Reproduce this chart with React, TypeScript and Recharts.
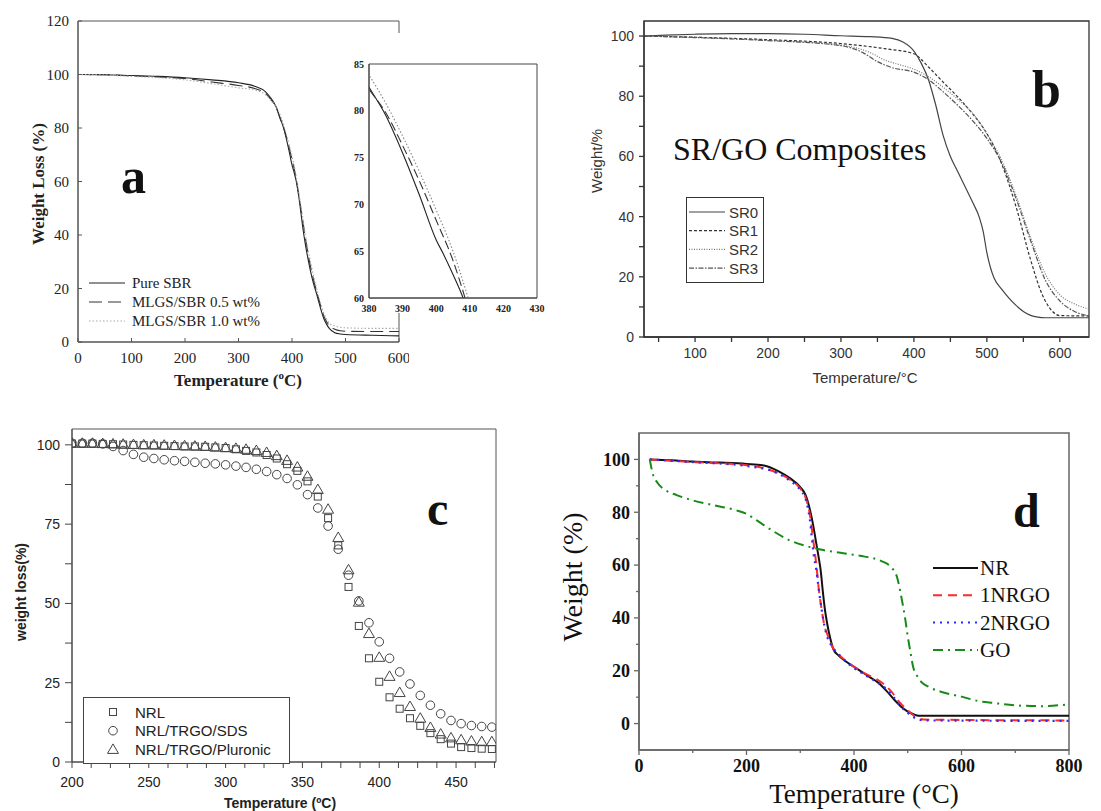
import React from 'react';
import { LineChart, Line, XAxis, YAxis, ScatterChart, Scatter, ReferenceArea, Legend } from 'recharts';

const SERIF = '"Liberation Serif", "Times New Roman", Times, serif';
const SANS = '"Liberation Sans", Arial, Helvetica, sans-serif';

// ---------------- Panel a : SBR ----------------
const aNames = ['Pure SBR', 'MLGS/SBR 0.5 wt%', 'MLGS/SBR 1.0 wt%'];
const aPureT = [0, 50, 100, 150, 200, 250, 300, 330, 350, 360, 370, 380, 385, 390, 395, 400, 402, 405, 408, 415, 420, 425, 430, 440, 446, 450, 455, 460, 465, 470, 480, 490, 500, 550, 600];
const aPureW = [100, 99.9, 99.6, 99.3, 98.8, 98, 96.9, 95.6, 93.6, 91.3, 88, 82.5, 79.5, 75.5, 71, 66.2, 64.8, 62.5, 60, 51, 43, 36.5, 31, 22, 18, 15, 11.5, 8.5, 6.5, 5, 3.5, 3, 2.8, 2.5, 2.3];
const aHalfT = [0, 50, 100, 150, 200, 250, 300, 330, 350, 360, 370, 380, 385, 390, 395, 400, 405, 408.6, 415, 420, 425, 430, 440, 446, 450, 455, 460, 465, 470, 480, 490, 500, 550, 600];
const aHalfW = [100, 99.9, 99.5, 99.1, 98.5, 97.2, 95.9, 94.8, 93, 90.8, 87.8, 82.3, 79.8, 76.3, 72.5, 68.3, 64, 60, 52, 45.5, 39, 33, 23.5, 19, 16, 12.5, 9.5, 7.5, 6, 4.8, 4.2, 4, 3.9, 3.9];
const aOneT = [0, 50, 100, 150, 200, 250, 300, 330, 350, 360, 370, 380, 385, 390, 395, 400, 405, 409.5, 415, 420, 425, 430, 440, 446, 450, 455, 460, 465, 470, 480, 490, 500, 550, 600];
const aOneW = [100, 99.8, 99.3, 98.8, 98, 96.6, 95, 94.2, 92.5, 90.5, 88, 83.8, 80.8, 77.3, 73.5, 69.4, 65, 60, 53, 46.5, 40, 34.5, 25, 20, 17, 13.5, 10.5, 8.5, 7, 6, 5.5, 5.3, 5.1, 5.1];
const aTicksX = [0, 100, 200, 300, 400, 500, 600];
const aTicksY = [0, 20, 40, 60, 80, 100, 120];
const aInsetTicksX = [380, 390, 400, 410, 420, 430];
const aInsetTicksY = [60, 65, 70, 75, 80, 85];

// ---------------- Panel b : SR/GO ----------------
const bNames = ['SR0', 'SR1', 'SR2', 'SR3'];
const bSr0T = [30, 60, 100, 150, 200, 250, 300, 340, 370, 385, 400, 410, 420, 430, 440, 450, 460, 470, 480, 490, 495, 500, 505, 510, 520, 530, 540, 550, 560, 570, 580, 640];
const bSr0W = [100, 100.3, 100.6, 100.8, 100.8, 100.6, 100.1, 99.8, 99.2, 98, 95, 91, 85.5, 77, 67, 60, 55, 50, 45, 39.5, 35, 28, 23, 19.5, 16, 13, 10.5, 8.5, 7.2, 6.6, 6.4, 6.4];
const bSr1T = [30, 100, 200, 300, 360, 400, 420, 440, 460, 480, 500, 520, 540, 560, 575, 590, 600, 640];
const bSr1W = [100, 99.6, 98.8, 97.5, 95.8, 94.1, 89.7, 84.7, 79.8, 74.3, 67.6, 57.7, 43.3, 25.6, 14.6, 8.5, 7.1, 7];
const bSr2T = [30, 100, 200, 300, 340, 360, 380, 400, 420, 440, 460, 480, 500, 520, 540, 560, 580, 600, 620, 640];
const bSr2W = [100, 99.6, 98.6, 97, 94.5, 92, 90.5, 89, 86.5, 83, 79, 74.5, 67.5, 59, 47, 33, 21, 14, 11, 9.3];
const bSr3T = [30, 100, 200, 300, 330, 350, 370, 400, 420, 440, 460, 480, 500, 520, 540, 560, 580, 600, 620, 640];
const bSr3W = [100, 99.5, 98.5, 96.8, 94.5, 91.5, 89.5, 88, 85.5, 81.5, 77, 72, 66, 58, 46, 32, 19, 12, 8.5, 7];
const bTicksX = [50, 100, 150, 200, 250, 300, 350, 400, 450, 500, 550, 600];
const bMajorX = [100, 200, 300, 400, 500, 600];
const bTicksY = [0, 10, 20, 30, 40, 50, 60, 70, 80, 90, 100];
const bMajorY = [0, 20, 40, 60, 80, 100];

// ---------------- Panel c : NRL scatter ----------------
const cNames = ['NRL', 'NRL/TRGO/SDS', 'NRL/TRGO/Pluronic'];
const cTemps = [200, 206.7, 213.3, 220, 226.7, 233.3, 240, 246.7, 253.3, 260, 266.7, 273.3, 280, 286.7, 293.3, 300, 306.7, 313.3, 320, 326.7, 333.3, 340, 346.7, 353.3, 360, 366.7, 373.3, 380, 386.7, 393.3, 400, 406.7, 413.3, 420, 426.7, 433.3, 440, 446.7, 453.3, 460, 466.7, 473.3];
const cNrlW = [100.4, 100.4, 100.4, 100.3, 100.2, 100.1, 100, 99.9, 99.8, 99.7, 99.6, 99.5, 99.5, 99.4, 99.2, 99, 98.6, 98.1, 97.6, 96.8, 95.7, 93.9, 91.8, 88.5, 83.7, 76.9, 68.3, 55.2, 42.9, 32.7, 25.3, 20.4, 16.8, 13.8, 11.4, 9.1, 7.2, 5.8, 4.7, 4.4, 4.2, 4.1];
const cSdsW = [100.5, 100.5, 100.5, 100.3, 99.5, 98.2, 97, 96.1, 95.7, 95.3, 95, 94.8, 94.5, 94.2, 94, 93.7, 93.3, 92.9, 92.3, 91.6, 90.6, 89.4, 87.4, 84.3, 80.1, 74.4, 67.1, 58.9, 50.8, 43.9, 37.9, 32.7, 28.4, 24.6, 21, 17.9, 15.2, 13.1, 12.1, 11.5, 11.2, 11];
const cPluW = [100.5, 100.5, 100.5, 100.4, 100.3, 100.2, 100.1, 100, 100, 99.9, 99.8, 99.7, 99.6, 99.5, 99.3, 99.1, 98.9, 98.6, 98.2, 97.6, 96.6, 95.1, 93, 90.1, 85.9, 79.7, 70.8, 60.6, 50.4, 40.5, 33, 27, 21.9, 17.5, 13.8, 10.9, 8.8, 7.6, 7, 6.6, 6.4, 6.4];
const cTicksX = [200, 212.5, 225, 237.5, 250, 262.5, 275, 287.5, 300, 312.5, 325, 337.5, 350, 362.5, 375, 387.5, 400, 412.5, 425, 437.5, 450, 462.5, 475];
const cMajorX = [200, 250, 300, 350, 400, 450];
const cTicksY = [0, 12.5, 25, 37.5, 50, 62.5, 75, 87.5, 100];
const cMajorY = [0, 25, 50, 75, 100];

// ---------------- Panel d : NR/GO ----------------
const dNames = ['NR', '1NRGO', '2NRGO', 'GO'];
const dNrT = [20, 60, 100, 150, 200, 230, 260, 280, 300, 310, 318, 325, 330, 335, 338, 342, 346, 350, 355, 362, 370, 385, 400, 415, 430, 445, 460, 475, 490, 505, 520, 800];
const dNrW = [100, 99.7, 99.2, 98.8, 98.3, 97.8, 95.5, 93, 89.5, 86.5, 81, 74, 68, 62, 58, 50, 43, 38, 33, 28, 26, 23.5, 21.5, 19.5, 17.5, 15.5, 12.5, 9, 6, 4, 3, 3];
const d1T = [20, 100, 200, 250, 280, 300, 310, 318, 325, 330, 335, 340, 345, 350, 360, 375, 400, 420, 440, 455, 470, 485, 500, 515, 530, 800];
const d1W = [100, 99, 97.8, 95.5, 92.5, 89, 85.5, 79, 68, 60, 50, 43, 37, 34, 29, 25.5, 21.5, 19, 17, 15, 12, 8, 5, 2.5, 1.5, 1.2];
const d2T = [20, 100, 200, 250, 280, 300, 310, 318, 325, 330, 335, 340, 345, 350, 360, 375, 400, 420, 440, 455, 470, 485, 500, 515, 530, 800];
const d2W = [100, 99, 97.5, 95.5, 92, 88.5, 85, 77, 64, 58, 50, 43, 37, 33, 29, 25.5, 21, 18.5, 16, 14, 11, 7, 4, 2, 1.2, 1];
const dGoT = [20, 25, 35, 50, 70, 100, 150, 180, 200, 220, 250, 280, 310, 340, 380, 420, 450, 470, 480, 488, 495, 500, 505, 510, 518, 525, 540, 570, 600, 630, 660, 700, 750, 800];
const dGoW = [100, 95, 91, 88.3, 86.5, 84.5, 82.2, 80.8, 79.4, 76.8, 72.8, 69.4, 67.3, 65.8, 64.5, 63.2, 61.6, 59, 55.5, 48, 40, 33, 27, 21.5, 17.8, 15.8, 13.8, 11.6, 10.2, 8.6, 7.8, 6.9, 6.6, 7.3];
const dTicksX = [0, 100, 200, 300, 400, 500, 600, 700, 800];
const dMajorX = [0, 200, 400, 600, 800];
const dTicksY = [0, 10, 20, 30, 40, 50, 60, 70, 80, 90, 100];
const dMajorY = [0, 20, 40, 60, 80, 100];

const zip = (t: number[], w: number[]) => t.map((x, i) => ({ t: x, w: w[i] }));

type TickOpts = {
  axis: 'x' | 'y';
  dir: number; // 1 outward, -1 inward
  major: number[];
  majorLen: number;
  minorLen: number;
  offset: number;
  font: string;
  size: number;
  weight?: string | number;
  color: string;
  tickColor: string;
  tickWidth?: number;
};

function makeTick(o: TickOpts) {
  return function Tick(props: any) {
    const { x, y, payload } = props;
    const v = Number(payload.value);
    const major = o.major.some((m) => Math.abs(m - v) < 1e-6);
    const len = major ? o.majorLen : o.minorLen;
    const label = String(v);
    const style = { fontFamily: o.font, fontSize: o.size, fontWeight: o.weight ?? 'normal' } as React.CSSProperties;
    if (o.axis === 'x') {
      return (
        <g>
          {len > 0 && <line x1={x} x2={x} y1={y} y2={y + o.dir * len} stroke={o.tickColor} strokeWidth={o.tickWidth ?? 1} />}
          {major && (
            <text x={x} y={y + o.offset} textAnchor="middle" style={style} fill={o.color}>
              {label}
            </text>
          )}
        </g>
      );
    }
    return (
      <g>
        {len > 0 && <line x1={x} x2={x - o.dir * len} y1={y} y2={y} stroke={o.tickColor} strokeWidth={o.tickWidth ?? 1} />}
        {major && (
          <text x={x - o.offset} y={y} dy="0.35em" textAnchor="end" style={style} fill={o.color}>
            {label}
          </text>
        )}
      </g>
    );
  };
}

// tick renderers
const aTickX = makeTick({ axis: 'x', dir: -1, major: aTicksX, majorLen: 4, minorLen: 4, offset: 21, font: SERIF, size: 15, color: '#222', tickColor: '#555' });
const aTickY = makeTick({ axis: 'y', dir: -1, major: aTicksY, majorLen: 4, minorLen: 4, offset: 9, font: SERIF, size: 15, color: '#222', tickColor: '#555' });
const aInTickX = makeTick({ axis: 'x', dir: -1, major: aInsetTicksX, majorLen: 0, minorLen: 0, offset: 14, font: SERIF, size: 10, weight: 'bold', color: '#222', tickColor: '#444' });
const aInTickY = makeTick({ axis: 'y', dir: -1, major: aInsetTicksY, majorLen: 0, minorLen: 0, offset: 5, font: SERIF, size: 10, weight: 'bold', color: '#222', tickColor: '#444' });
const bTickX = makeTick({ axis: 'x', dir: 1, major: bMajorX, majorLen: 5, minorLen: 5, offset: 21, font: SANS, size: 14, color: '#333', tickColor: '#333', tickWidth: 1.3 });
const bTickY = makeTick({ axis: 'y', dir: 1, major: bMajorY, majorLen: 5, minorLen: 5, offset: 10, font: SANS, size: 14, color: '#333', tickColor: '#333', tickWidth: 1.3 });
const cTickX = makeTick({ axis: 'x', dir: 1, major: cMajorX, majorLen: 6, minorLen: 6, offset: 25, font: SANS, size: 14, color: '#222', tickColor: '#444' });
const cTickY = makeTick({ axis: 'y', dir: 1, major: cMajorY, majorLen: 7, minorLen: 7, offset: 12, font: SANS, size: 14, color: '#222', tickColor: '#444' });
const dTickX = makeTick({ axis: 'x', dir: 1, major: dMajorX, majorLen: 5, minorLen: 3, offset: 22, font: SERIF, size: 18, weight: 'bold', color: '#111', tickColor: '#666', tickWidth: 1.3 });
const dTickY = makeTick({ axis: 'y', dir: 1, major: dMajorY, majorLen: 5, minorLen: 3, offset: 9, font: SERIF, size: 18, weight: 'bold', color: '#111', tickColor: '#666', tickWidth: 1.3 });

const abs = (left: number, top: number): React.CSSProperties => ({ position: 'absolute', left, top });

// series styles
const aStyles = [
  { stroke: '#222', dash: undefined as string | undefined, w: 1.1 },
  { stroke: '#333', dash: '13 6', w: 1.1 },
  { stroke: '#aaa', dash: '1.5 2', w: 1.1 },
];
const bStyles = [
  { stroke: '#444', dash: undefined as string | undefined, w: 1.2 },
  { stroke: '#333', dash: '3 2', w: 1.2 },
  { stroke: '#777', dash: '1 1.5', w: 1.2 },
  { stroke: '#555', dash: '5 1.5 1.5 1.5', w: 1.2 },
];
const dStyles = [
  { stroke: '#111', dash: undefined as string | undefined, w: 2 },
  { stroke: '#ff2a2a', dash: '9 6', w: 2 },
  { stroke: '#2a2aff', dash: '2 5', w: 2.2 },
  { stroke: '#178a17', dash: '10 5 2 5', w: 2 },
];

function LegendA() {
  return (
    <svg width={200} height={60} style={{ display: 'block' }}>
      {aNames.map((n, i) => (
        <g key={n}>
          <line x1={3} x2={39} y1={8 + i * 19} y2={8 + i * 19} stroke={aStyles[i].stroke} strokeWidth={1.1} strokeDasharray={aStyles[i].dash} />
          <text x={46} y={13 + i * 19} style={{ fontFamily: SERIF, fontSize: 15 }} fill="#222">{n}</text>
        </g>
      ))}
    </svg>
  );
}

function LegendB() {
  return (
    <svg width={80} height={88} style={{ display: 'block' }}>
      <rect x={0.5} y={0.5} width={77} height={85} fill="#fff" stroke="#333" strokeWidth={1} />
      {bNames.map((n, i) => (
        <g key={n}>
          <line x1={3} x2={39} y1={15 + i * 18.7} y2={15 + i * 18.7} stroke={bStyles[i].stroke} strokeWidth={1.2} strokeDasharray={bStyles[i].dash} />
          <text x={43} y={20.5 + i * 18.7} style={{ fontFamily: SANS, fontSize: 15 }} fill="#333">{n}</text>
        </g>
      ))}
    </svg>
  );
}

function SquareMark({ cx, cy }: any) {
  return <rect x={cx - 3.5} y={cy - 3.5} width={7} height={7} fill="none" stroke="#444" strokeWidth={1} />;
}
function CircleMark({ cx, cy }: any) {
  return <circle cx={cx} cy={cy} r={4.3} fill="none" stroke="#444" strokeWidth={1} />;
}
function TriMark({ cx, cy }: any) {
  return <path d={`M${cx},${cy - 5.5}L${cx + 5.5},${cy + 4}L${cx - 5.5},${cy + 4}Z`} fill="none" stroke="#444" strokeWidth={1} />;
}
const cMarks = [SquareMark, CircleMark, TriMark];

function LegendC() {
  return (
    <svg width={208} height={68} style={{ display: 'block' }}>
      <rect x={0.5} y={0.5} width={206} height={66} fill="#fff" stroke="#444" strokeWidth={1} />
      {cNames.map((n, i) => {
        const M = cMarks[i];
        const cy = 15 + i * 18.7;
        return (
          <g key={n}>
            <M cx={30} cy={cy} />
            <text x={52} y={cy + 5.5} style={{ fontFamily: SANS, fontSize: 15 }} fill="#222">{n}</text>
          </g>
        );
      })}
    </svg>
  );
}

function LegendD() {
  return (
    <svg width={140} height={110} style={{ display: 'block' }}>
      {dNames.map((n, i) => (
        <g key={n}>
          <line x1={3} x2={48} y1={13 + i * 27.3} y2={13 + i * 27.3} stroke={dStyles[i].stroke} strokeWidth={2} strokeDasharray={dStyles[i].dash} />
          <text x={50} y={20 + i * 27.3} style={{ fontFamily: SERIF, fontSize: 21 }} fill="#111">{n}</text>
        </g>
      ))}
    </svg>
  );
}

export default function App() {
  const aSeries = [zip(aPureT, aPureW), zip(aHalfT, aHalfW), zip(aOneT, aOneW)];
  const bSeries = [zip(bSr0T, bSr0W), zip(bSr1T, bSr1W), zip(bSr2T, bSr2W), zip(bSr3T, bSr3W)];
  const cSeries = [zip(cTemps, cNrlW), zip(cTemps, cSdsW), zip(cTemps, cPluW)];
  const dSeries = [zip(dNrT, dNrW), zip(d1T, d1W), zip(d2T, d2W), zip(dGoT, dGoW)];

  return (
    <div style={{ position: 'absolute', left: 0, top: 0, width: 1101, height: 811, background: '#fff', overflow: 'hidden' }}>
      {/* Panel a main */}
      <div style={abs(0, 0)}>
        <LineChart width={409} height={372} margin={{ top: 21, right: 10, left: 0, bottom: 0 }}>
          <XAxis type="number" dataKey="t" domain={[0, 600]} ticks={aTicksX} interval={0} allowDataOverflow height={30} tickSize={0} tickMargin={0} tickLine={false} tick={aTickX} axisLine={{ stroke: '#555', strokeWidth: 1 }} />
          <YAxis type="number" dataKey="w" domain={[0, 120]} ticks={aTicksY} interval={0} allowDataOverflow width={78} tickSize={0} tickMargin={0} tickLine={false} tick={aTickY} axisLine={{ stroke: '#555', strokeWidth: 1 }} />
          <ReferenceArea x1={0} x2={600} y1={0} y2={120} fill="none" stroke="#555" strokeWidth={1} ifOverflow="visible" />
          {aSeries.map((s, i) => (
            <Line key={aNames[i]} name={aNames[i]} data={s} dataKey="w" type="monotone" dot={false} isAnimationActive={false} stroke={aStyles[i].stroke} strokeWidth={aStyles[i].w} strokeDasharray={aStyles[i].dash} />
          ))}
          <Legend layout="vertical" align="center" verticalAlign="middle" content={() => <LegendA />} wrapperStyle={{ left: 86, top: 275, width: 200, height: 60 }} />
        </LineChart>
      </div>
      {/* Panel a inset */}
      <div style={{ ...abs(338, 33), background: '#fff' }}>
        <LineChart width={222} height={280} margin={{ top: 31, right: 23, left: 0, bottom: 0 }}>
          <XAxis type="number" dataKey="t" domain={[380, 430]} ticks={aInsetTicksX} interval={0} allowDataOverflow height={15} tickSize={0} tickMargin={0} tickLine={false} tick={aInTickX} axisLine={{ stroke: '#444', strokeWidth: 1 }} />
          <YAxis type="number" dataKey="w" domain={[60, 85]} ticks={aInsetTicksY} interval={0} allowDataOverflow width={31} tickSize={0} tickMargin={0} tickLine={false} tick={aInTickY} axisLine={{ stroke: '#444', strokeWidth: 1 }} />
          <ReferenceArea x1={380} x2={430} y1={60} y2={85} fill="none" stroke="#444" strokeWidth={1} ifOverflow="visible" />
          {aSeries.map((s, i) => (
            <Line key={aNames[i]} name={aNames[i]} data={s} dataKey="w" type="monotone" dot={false} isAnimationActive={false} stroke={i === 2 ? '#888' : aStyles[i].stroke} strokeWidth={1.1} strokeDasharray={i === 1 ? '9 4' : aStyles[i].dash} />
          ))}
        </LineChart>
      </div>

      {/* Panel b */}
      <div style={abs(594, 0)}>
        <LineChart width={505} height={367} margin={{ top: 21, right: 10, left: 0, bottom: 0 }}>
          <XAxis type="number" dataKey="t" domain={[30, 640]} ticks={bTicksX} interval={0} allowDataOverflow height={30} tickSize={0} tickMargin={0} tickLine={false} tick={bTickX} axisLine={{ stroke: '#333', strokeWidth: 1.3 }} />
          <YAxis type="number" dataKey="w" domain={[0, 105]} ticks={bTicksY} interval={0} allowDataOverflow width={50} tickSize={0} tickMargin={0} tickLine={false} tick={bTickY} axisLine={{ stroke: '#333', strokeWidth: 1.3 }} />
          <ReferenceArea x1={30} x2={640} y1={0} y2={105} fill="none" stroke="#333" strokeWidth={1.3} ifOverflow="visible" />
          {bSeries.map((s, i) => (
            <Line key={bNames[i]} name={bNames[i]} data={s} dataKey="w" type="monotone" dot={false} isAnimationActive={false} stroke={bStyles[i].stroke} strokeWidth={bStyles[i].w} strokeDasharray={bStyles[i].dash} />
          ))}
          <Legend layout="vertical" align="center" verticalAlign="middle" content={() => <LegendB />} wrapperStyle={{ left: 92, top: 197, width: 80, height: 88 }} />
        </LineChart>
      </div>

      {/* Panel c */}
      <div style={abs(12, 420)}>
        <ScatterChart width={492} height={372} margin={{ top: 9, right: 8, left: 0, bottom: 0 }}>
          <XAxis type="number" dataKey="t" domain={[200, 476]} ticks={cTicksX} interval={0} allowDataOverflow height={30} tickSize={0} tickMargin={0} tickLine={false} tick={cTickX} axisLine={{ stroke: '#444', strokeWidth: 1 }} />
          <YAxis type="number" dataKey="w" domain={[0, 105]} ticks={cTicksY} interval={0} allowDataOverflow width={60} tickSize={0} tickMargin={0} tickLine={false} tick={cTickY} axisLine={{ stroke: '#444', strokeWidth: 1 }} />
          <ReferenceArea x1={200} x2={476} y1={0} y2={105} fill="none" stroke="#555" strokeWidth={1} ifOverflow="visible" />
          {cSeries.map((s, i) => {
            const M = cMarks[i];
            return <Scatter key={cNames[i]} name={cNames[i]} data={s} isAnimationActive={false} shape={(p: any) => <M cx={p.cx} cy={p.cy} />} />;
          })}
          <Legend layout="vertical" align="center" verticalAlign="middle" content={() => <LegendC />} wrapperStyle={{ left: 71, top: 277, width: 208, height: 68 }} />
        </ScatterChart>
      </div>

      {/* Panel d */}
      <div style={abs(589, 423)}>
        <LineChart width={508} height={357} margin={{ top: 10, right: 28, left: 0, bottom: 0 }}>
          <XAxis type="number" dataKey="t" domain={[0, 800]} ticks={dTicksX} interval={0} allowDataOverflow height={30} tickSize={0} tickMargin={0} tickLine={false} tick={dTickX} axisLine={{ stroke: '#666', strokeWidth: 1.5 }} />
          <YAxis type="number" dataKey="w" domain={[-10, 110]} ticks={dTicksY} interval={0} allowDataOverflow width={50} tickSize={0} tickMargin={0} tickLine={false} tick={dTickY} axisLine={{ stroke: '#666', strokeWidth: 1.5 }} />
          <ReferenceArea x1={0} x2={800} y1={-10} y2={110} fill="none" stroke="#666" strokeWidth={1.5} ifOverflow="visible" />
          {dSeries.map((s, i) => (
            <Line key={dNames[i]} name={dNames[i]} data={s} dataKey="w" type="monotone" dot={false} isAnimationActive={false} stroke={dStyles[i].stroke} strokeWidth={dStyles[i].w} strokeDasharray={dStyles[i].dash} />
          ))}
          <Legend layout="vertical" align="center" verticalAlign="middle" content={() => <LegendD />} wrapperStyle={{ left: 341, top: 132, width: 140, height: 110 }} />
        </LineChart>
      </div>

      {/* Titles and panel letters */}
      <svg width={1101} height={811} style={{ position: 'absolute', left: 0, top: 0, pointerEvents: 'none' }}>
        {/* a */}
        <text transform="translate(44,184) rotate(-90)" textAnchor="middle" style={{ fontFamily: SERIF, fontSize: 17, fontWeight: 'bold' }} fill="#222">Weight Loss (%)</text>
        <text x={238} y={386} textAnchor="middle" style={{ fontFamily: SERIF, fontSize: 17, fontWeight: 'bold' }} fill="#222">
          Temperature (<tspan fontSize={11} dy={-7}>o</tspan><tspan dy={7}>C)</tspan>
        </text>
        <text x={121} y={193} style={{ fontFamily: SERIF, fontSize: 50, fontWeight: 'bold' }} fill="#111">a</text>
        {/* b */}
        <text transform="translate(602,161) rotate(-90)" textAnchor="middle" style={{ fontFamily: SANS, fontSize: 15 }} fill="#333">Weight/%</text>
        <text x={865} y={383} textAnchor="middle" style={{ fontFamily: SANS, fontSize: 15 }} fill="#333">Temperature/°C</text>
        <text x={673} y={160} style={{ fontFamily: SERIF, fontSize: 32 }} fill="#111">SR/GO Composites</text>
        <text x={1032} y={107} style={{ fontFamily: SERIF, fontSize: 52, fontWeight: 'bold' }} fill="#111">b</text>
        {/* c */}
        <text transform="translate(26,592) rotate(-90)" textAnchor="middle" style={{ fontFamily: SANS, fontSize: 14, fontWeight: 'bold' }} fill="#222">weight loss(%)</text>
        <text x={280} y={808} textAnchor="middle" style={{ fontFamily: SANS, fontSize: 14, fontWeight: 'bold' }} fill="#222">Temperature (ºC)</text>
        <text x={427} y={525} style={{ fontFamily: SERIF, fontSize: 48, fontWeight: 'bold' }} fill="#111">c</text>
        {/* d */}
        <text transform="translate(582,577) rotate(-90)" textAnchor="middle" style={{ fontFamily: SERIF, fontSize: 28 }} fill="#111">Weight (%)</text>
        <text x={864} y={803} textAnchor="middle" style={{ fontFamily: SERIF, fontSize: 27 }} fill="#111">Temperature (°C)</text>
        <text x={1013} y={527} style={{ fontFamily: SERIF, fontSize: 48, fontWeight: 'bold' }} fill="#111">d</text>
      </svg>
    </div>
  );
}
